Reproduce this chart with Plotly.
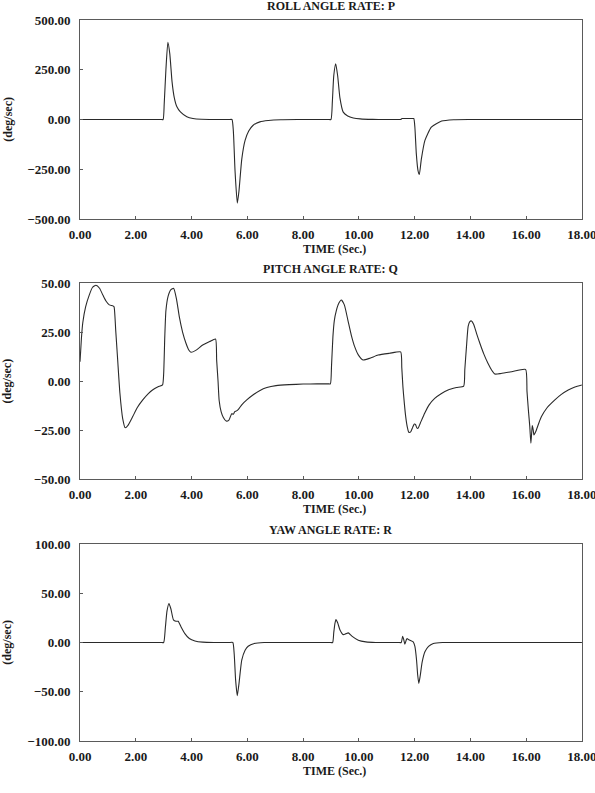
import plotly.graph_objects as go

# ---- ROLL ANGLE RATE: P (deg/sec) ----
t_p = [0.0, 1.5, 2.5, 2.9, 2.98, 3.02, 3.08, 3.15, 3.22, 3.30, 3.38, 3.47, 3.60, 3.83, 4.05, 4.35, 4.80,
       5.10, 5.35, 5.45, 5.50, 5.56, 5.64, 5.70, 5.80, 5.92, 6.05, 6.20, 6.45, 6.75, 7.20,
       7.80, 8.50, 8.90, 9.00, 9.05, 9.10, 9.17, 9.24, 9.32, 9.44, 9.60, 9.80, 10.05, 10.50,
       10.90, 11.30, 11.45, 11.50, 11.55, 11.70, 11.90, 11.97, 12.01, 12.06, 12.12, 12.17, 12.24,
       12.37, 12.60, 12.97, 13.40, 14.0, 15.0, 16.5, 18.0]
p_val = [0.0, 0.0, 0.0, 0.0, 0.0, 80.0, 250.0, 388.0, 330.0, 190.0, 110.0, 65.0, 38.0, 14.0, 5.0, 1.0, 0.0,
         0.0, 0.0, 0.0, -60.0, -260.0, -420.0, -360.0, -200.0, -105.0, -58.0, -30.0, -12.0, -5.0, -1.0,
         0.0, 0.0, 0.0, 0.0, 90.0, 220.0, 280.0, 220.0, 110.0, 37.0, 18.0, 8.0, 3.0, 0.5,
         0.0, 0.0, 0.0, 0.0, 5.0, 5.0, 5.0, 5.0, -40.0, -170.0, -255.0, -276.0, -200.0,
         -105.0, -38.0, -8.0, -1.0, 0.0, 0.0, 0.0, 0.0]

# ---- PITCH ANGLE RATE: Q (deg/sec) ----
t_q = [0.0, 0.05, 0.10, 0.20, 0.33, 0.45, 0.57, 0.70, 0.82, 0.93, 1.05, 1.18, 1.22,
       1.28, 1.35, 1.43, 1.53, 1.62, 1.72, 1.89, 2.05, 2.25, 2.45, 2.60, 2.80, 2.96,
       3.00, 3.04, 3.08, 3.16, 3.26, 3.36, 3.46, 3.56, 3.68, 3.80, 3.90, 3.98, 4.15, 4.40, 4.65, 4.86,
       4.90, 4.95, 4.99, 5.06, 5.14, 5.24, 5.34, 5.44, 5.50, 5.55, 5.60, 5.68, 5.80, 5.98,
       6.20, 6.44, 6.70, 7.03, 7.50, 8.00, 8.50, 8.90, 8.98,
       9.02, 9.07, 9.12, 9.19, 9.28, 9.37, 9.48, 9.61, 9.73, 9.85, 9.98, 10.15, 10.40, 10.69, 11.10, 11.50,
       11.54, 11.58, 11.63, 11.68, 11.74, 11.79, 11.86, 11.93, 11.99, 12.03, 12.08, 12.12, 12.20,
       12.36, 12.52, 12.72, 12.95, 13.20, 13.50, 13.76,
       13.80, 13.86, 13.92, 13.98, 14.04, 14.12, 14.22, 14.34, 14.48, 14.63, 14.76, 14.88, 15.10, 15.48, 15.98,
       16.03, 16.08, 16.13, 16.17, 16.20, 16.22, 16.25, 16.28, 16.35, 16.45, 16.55, 16.75, 17.03,
       17.25, 17.51, 17.75, 18.0]
q_val = [10.0, 22.0, 30.0, 38.0, 44.0, 48.0, 49.0, 47.5, 44.0, 41.0, 39.0, 38.5, 38.0,
         26.0, 11.0, -6.0, -19.0, -23.7, -22.5, -18.0, -13.5, -9.5, -6.3, -4.4, -2.8, -1.8,
         4.0, 22.8, 36.0, 43.5, 46.8, 47.4, 42.0, 33.0, 25.0, 19.4, 16.0, 14.8, 15.8, 18.5, 20.3, 21.6,
         10.9, 0.0, -9.8, -15.5, -18.5, -20.3, -19.8, -16.5, -16.8, -15.5, -15.2, -14.3, -12.0, -9.5,
         -7.0, -4.8, -3.2, -2.2, -1.7, -1.4, -1.3, -1.3, -1.3,
         8.0, 22.8, 31.0, 36.0, 39.8, 41.5, 39.0, 31.0, 23.5, 17.7, 13.5, 10.9, 11.8, 13.4, 14.3, 15.0,
         7.0, -2.7, -11.0, -18.0, -23.5, -26.0, -25.8, -23.5, -21.8, -22.0, -23.8, -24.0, -21.5,
         -16.3, -12.0, -8.7, -6.3, -4.4, -3.2, -2.4,
         6.0, 17.7, 28.0, 30.5, 30.8, 29.0, 24.5, 19.4, 14.0, 9.2, 5.8, 3.7, 4.0, 4.9, 6.1,
         -5.0, -14.6, -23.0, -31.6, -26.0, -22.6, -24.5, -27.4, -25.5, -21.5, -18.0, -13.5, -9.5,
         -6.8, -4.4, -2.9, -1.9]

# ---- YAW ANGLE RATE: R (deg/sec) ----
t_r = [0.0, 1.5, 2.5, 2.9, 3.00, 3.06, 3.12, 3.19, 3.26, 3.35, 3.44, 3.52, 3.62, 3.76, 3.92, 4.12, 4.40, 4.80,
       5.10, 5.35, 5.48, 5.53, 5.58, 5.64, 5.70, 5.80, 5.92, 6.03, 6.25, 6.60,
       7.20, 8.00, 8.60, 8.95, 9.06, 9.10, 9.14, 9.18, 9.24, 9.32, 9.44, 9.54, 9.62, 9.75, 9.98, 10.25, 10.60,
       10.90, 11.20, 11.42, 11.52, 11.57, 11.61, 11.65, 11.70, 11.73, 11.78, 11.83, 11.95, 12.01, 12.07, 12.11, 12.15,
       12.20, 12.27, 12.37, 12.50, 12.67, 13.00, 13.6, 14.5, 16.0, 18.0]
r_val = [0.0, 0.0, 0.0, 0.0, 0.0, 15.0, 32.0, 39.6, 34.0, 23.0, 21.5, 21.6, 16.0, 9.0, 4.0, 1.6, 0.4, 0.0,
         0.0, 0.0, 0.0, -12.0, -38.0, -54.0, -42.0, -18.0, -8.0, -3.8, -1.0, 0.0,
         0.0, 0.0, 0.0, 0.0, 0.0, 10.0, 19.0, 23.3, 20.0, 13.0, 8.0, 9.0, 9.8, 6.5, 2.3, 0.6, 0.0,
         0.0, 0.0, 0.0, 0.0, 6.4, 3.0, -1.7, 2.5, 4.0, 3.0, 2.3, 0.6, -4.0, -18.0, -33.0, -41.6,
         -34.0, -20.0, -9.5, -4.0, -1.0, 0.0, 0.0, 0.0, 0.0, 0.0]

x_ticks = [0, 2, 4, 6, 8, 10, 12, 14, 16, 18]

panels = [
    ("ROLL ANGLE RATE: P", t_p, p_val, [-500, 500], 250, (0.7238, 0.9748)),
    ("PITCH ANGLE RATE: Q", t_q, q_val, [-50, 50], 25, (0.3956, 0.6427)),
    ("YAW ANGLE RATE: R", t_r, r_val, [-100, 100], 50, (0.0656, 0.3140)),
]

FONT = "Liberation Serif"
INK = "#1a1a1a"
AXIS = "#5a5a5a"

fig = go.Figure()
layout = dict(
    width=595, height=793,
    margin=dict(l=0, r=0, t=0, b=0),
    paper_bgcolor="white", plot_bgcolor="white",
    showlegend=False,
    font=dict(family=FONT, size=12, color=INK),
)
annotations = []

for i, (title, tt, vv, yr, dt, dom) in enumerate(panels, start=1):
    xa = "x" if i == 1 else f"x{i}"
    ya = "y" if i == 1 else f"y{i}"
    fig.add_trace(go.Scatter(
        x=tt, y=vv, mode="lines", xaxis=xa, yaxis=ya,
        line=dict(color="#2a2a2a", width=1.1, shape="spline", smoothing=0.5),
        hoverinfo="skip",
    ))
    axis_common = dict(
        showline=True, linecolor=AXIS, linewidth=1, mirror=True,
        showgrid=False, zeroline=False, automargin=False,
        ticks="inside", ticklen=3, tickcolor=AXIS,
        tickformat=".2f", ticklabeloverflow="allow",
        tickfont=dict(family=FONT, size=13, color=INK, weight="bold"),
    )
    layout["xaxis" if i == 1 else f"xaxis{i}"] = dict(
        axis_common, domain=[0.1345, 0.978], range=[0, 18],
        tickvals=x_ticks, anchor=ya, ticklabelstandoff=3,
    )
    layout["yaxis" if i == 1 else f"yaxis{i}"] = dict(
        axis_common, domain=list(dom), range=yr, dtick=dt, anchor=xa,
        ticklabelstandoff=6,
    )
    top = dom[1]
    bot = dom[0]
    annotations.append(dict(
        text=f"<b>{title}</b>", x=0.556, y=top, xref="paper", yref="paper",
        xanchor="center", yanchor="bottom", yshift=5, showarrow=False,
        font=dict(family=FONT, size=12, color=INK),
    ))
    annotations.append(dict(
        text="<b>TIME (Sec.)</b>", x=0.563, y=bot, xref="paper", yref="paper",
        xanchor="center", yanchor="top", yshift=-21, showarrow=False,
        font=dict(family=FONT, size=12, color=INK),
    ))
    annotations.append(dict(
        text="<b>(deg/sec)</b>", x=0.012, y=(top + bot) / 2, xref="paper", yref="paper",
        xanchor="center", yanchor="middle", textangle=-90, showarrow=False,
        font=dict(family=FONT, size=12, color=INK),
    ))

layout["annotations"] = annotations
fig.update_layout(**layout)
# page body margin off so the figure sits at the window's top-left corner
fig.write_html("out.html", config={"displayModeBar": False},
               post_script="document.body.style.margin='0';")
